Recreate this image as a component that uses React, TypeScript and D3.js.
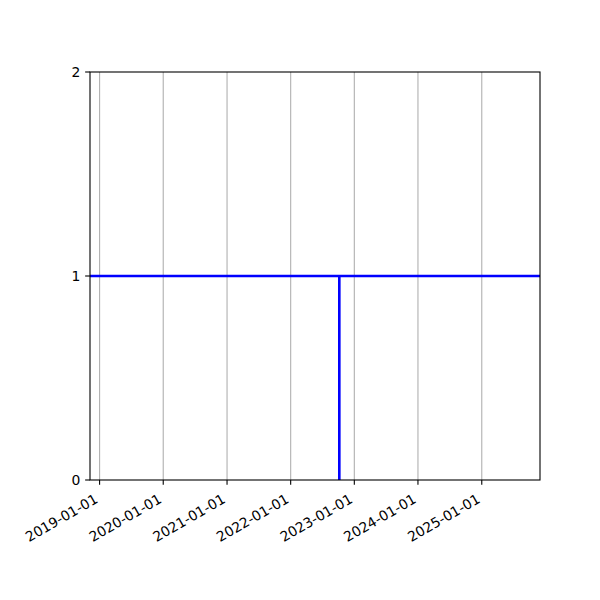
import React from "react";
import * as d3 from "d3";

// ---- data ----
const xDomainDates = ["2018-11-07", "2025-12-01"];
const xTickDates = ["2019-01-01", "2020-01-01", "2021-01-01", "2022-01-01", "2023-01-01", "2024-01-01", "2025-01-01"];
const yTickValues = [0, 1, 2];
const yDomainValues = [0, 2];
const levelValue = 1;
const eventDate = "2022-10-07";
const eventRange = [0, 1];

const W = 600, H = 600;
const M = { left: 90, right: 540, top: 72, bottom: 480 };
const FONT = "DejaVu Sans, sans-serif";
const FS = 13.9;

export default function App() {
  const parse = (s: string) => new Date(s + "T00:00:00Z");
  const x = d3.scaleUtc().domain(xDomainDates.map(parse)).range([M.left, M.right]);
  const y = d3.scaleLinear().domain(yDomainValues).range([M.bottom, M.top]);

  const hLine = d3.line<[Date, number]>().x(d => x(d[0])).y(d => y(d[1]));
  const hData: [Date, number][] = [[x.domain()[0], levelValue], [x.domain()[1], levelValue]];
  const vData: [Date, number][] = eventRange.map(v => [parse(eventDate), v] as [Date, number]);

  const tickLen = 4.86;
  const pad = 4.86;
  const asc = 0.76 * FS, desc = 0.24 * FS;

  return (
    <div style={{ position: "absolute", left: 0, top: 0 }}>
      <svg width={W} height={H} style={{ display: "block", background: "#fff" }}>
        {/* grid */}
        {xTickDates.map(t => {
          const px = x(parse(t));
          return <line key={"g" + t} x1={px} x2={px} y1={M.top} y2={M.bottom} stroke="#b0b0b0" strokeWidth={1.1} />;
        })}
        {/* data */}
        <g clipPath="url(#clip)">
          <path d={hLine(hData) || ""} stroke="#0000ff" strokeWidth={2.6} fill="none" />
          <path d={hLine(vData) || ""} stroke="#0000ff" strokeWidth={2.6} fill="none" />
        </g>
        <defs>
          <clipPath id="clip">
            <rect x={M.left} y={M.top} width={M.right - M.left} height={M.bottom - M.top} />
          </clipPath>
        </defs>
        {/* spines */}
        <rect x={M.left} y={M.top} width={M.right - M.left} height={M.bottom - M.top} fill="none" stroke="#000" strokeWidth={1.1} />
        {/* x ticks */}
        {xTickDates.map(t => {
          const px = x(parse(t));
          const ax = px - desc * 0.5 + 1;
          const ay = M.bottom + tickLen + pad + asc * 0.866 + 3;
          return (
            <g key={"x" + t}>
              <line x1={px} x2={px} y1={M.bottom} y2={M.bottom + tickLen} stroke="#000" strokeWidth={1.1} />
              <text x={ax} y={ay} transform={`rotate(-30 ${ax} ${ay})`} textAnchor="end" fontFamily={FONT} fontSize={FS} fill="#000">{t}</text>
            </g>
          );
        })}
        {/* y ticks */}
        {yTickValues.map(v => {
          const py = y(v);
          return (
            <g key={"y" + v}>
              <line x1={M.left - tickLen} x2={M.left} y1={py} y2={py} stroke="#000" strokeWidth={1.1} />
              <text x={M.left - tickLen - pad} y={py} dy="0.36em" textAnchor="end" fontFamily={FONT} fontSize={FS} fill="#000">{v}</text>
            </g>
          );
        })}
      </svg>
    </div>
  );
}
